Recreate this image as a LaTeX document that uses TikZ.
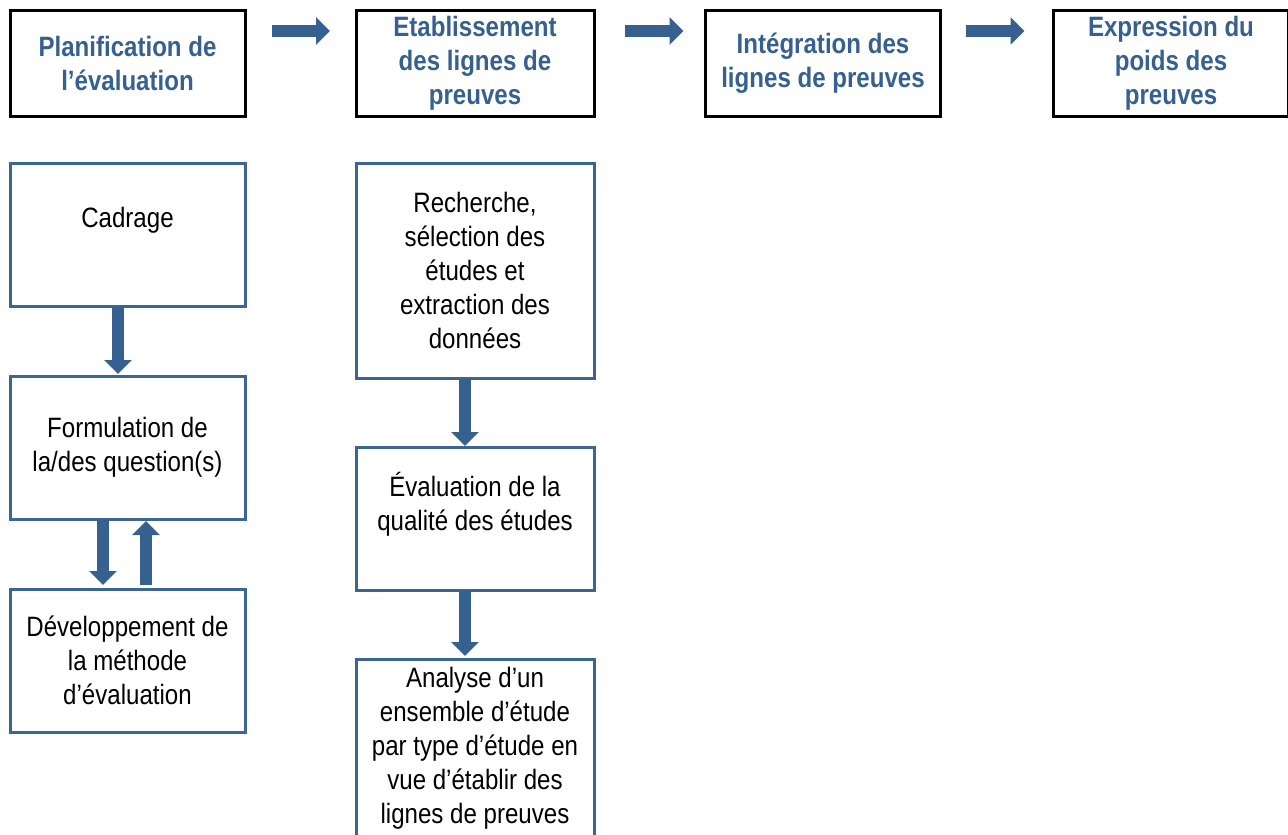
\documentclass[tikz,border=0pt]{standalone}
\usepackage{fontspec}
\setmainfont[FakeStretch=0.86]{Liberation Sans}
\usetikzlibrary{arrows.meta}
\definecolor{titleblue}{HTML}{36608F}
\definecolor{boxblue}{HTML}{3A6594}
\begin{document}
\begin{tikzpicture}[x=1pt,y=-1pt]
        \tikzstyle{phase}=[draw=black, line width=3pt, outer sep=0pt, inner sep=0pt,
          minimum width=235pt, minimum height=106pt, align=center, text=titleblue,
          font=\fontsize{28}{34}\selectfont\bfseries]
        \tikzstyle{stage}=[draw=boxblue, line width=3pt, outer sep=0pt, inner sep=0pt,
          minimum width=235pt, minimum height=143pt, align=center,
          font=\fontsize{28}{34}\selectfont]
        \tikzstyle{flow}=[draw=titleblue, line width=12pt, -{Triangle[width=27pt,length=14pt]}]
        \useasboundingbox (0,0) rectangle (1288,835);
        % the four phases
        \node[phase] (plan) at (127.5,63) {Planification de\\l’évaluation};
        \node[phase, minimum width=238pt] (lignes) at (475,63) {Etablissement\\des lignes de\\preuves};
        \node[phase] (integ) at (823,63) {Intégration des\\lignes de preuves};
        \node[phase] (poids) at (1171,63) {Expression du\\poids des\\preuves};
        % planning steps
        \node[stage] (cadrage) at (127.5,234.5) {Cadrage\\~};
        \node[stage] (question) at (127.5,447.5) {Formulation de\\la/des question(s)};
        \node[stage] (methode) at (127.5,660.5) {Développement de\\la méthode\\d’évaluation};
        % lines of evidence steps
        \node[stage, minimum width=238pt, minimum height=215pt] (recherche) at (475,270.5)
          {Recherche,\\sélection des\\études et\\extraction des\\données};
        \node[stage, minimum width=238pt] (qualite) at (475,518.5) {Évaluation de la\\qualité des études\\~};
        \node[stage, minimum width=238pt, minimum height=178pt] (analyse) at (475,748)
          {Analyse d’un\\ensemble d’étude\\par type d’étude en\\vue d’établir des\\lignes de preuves};
        % arrows
        \draw[flow, shorten <=27pt, shorten >=26pt] ([yshift=32pt]plan.east) -- ([yshift=32pt]lignes.west);
        \draw[flow, shorten <=31pt, shorten >=22pt] ([yshift=32pt]lignes.east) -- ([yshift=32pt]integ.west);
        \draw[flow, shorten <=25pt, shorten >=29pt] ([yshift=32pt]integ.east) -- ([yshift=32pt]poids.west);
        \draw[flow, shorten <=1pt, shorten >=2pt] ([xshift=-9.5pt]cadrage.south) -- ([xshift=-9.5pt]question.north);
        \draw[flow, shorten <=1pt, shorten >=4pt] ([xshift=-24.5pt]question.south) -- ([xshift=-24.5pt]methode.north);
        \draw[flow, shorten <=4pt, shorten >=2pt] ([xshift=18.5pt]methode.north) -- ([xshift=18.5pt]question.south);
        \draw[flow, shorten <=1pt, shorten >=1pt] ([xshift=-10pt]recherche.south) -- ([xshift=-10pt]qualite.north);
        \draw[flow, shorten <=1pt, shorten >=3pt] ([xshift=-10pt]qualite.south) -- ([xshift=-10pt]analyse.north);
\end{tikzpicture}
\end{document}
